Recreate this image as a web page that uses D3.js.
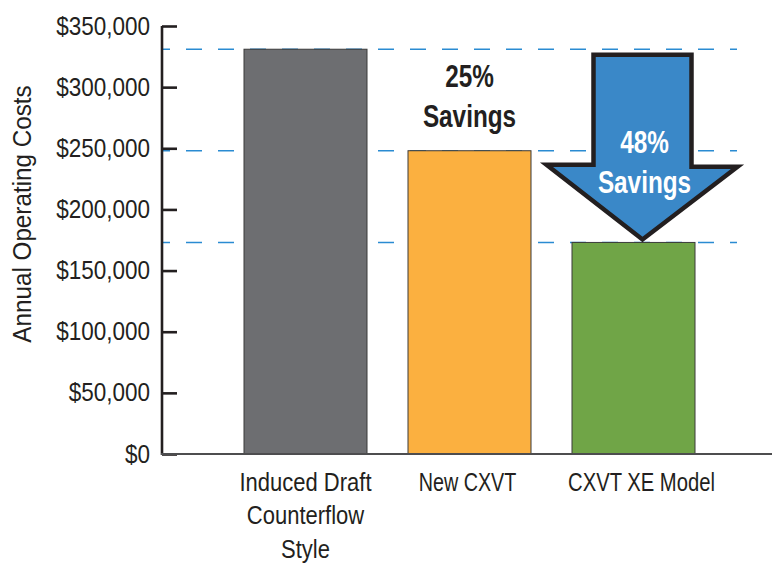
<!DOCTYPE html>
<html>
<head>
<meta charset="utf-8">
<script src="https://cdn.jsdelivr.net/npm/d3@7/dist/d3.min.js"></script>
<style>
  body { margin: 0; background: #fff; }
  text { font-family: "Liberation Sans", Arial, sans-serif; fill: #231f20; }
</style>
</head>
<body>
<div id="container"></div>
<script>
var categories = [['Induced Draft', 'Counterflow', 'Style'], ['New CXVT'], ['CXVT XE Model']]
var costs = [331000, 248000, 173000]
var colors = ['#6d6e71', '#fbb040', '#70a547']
var yTicks = [0, 50000, 100000, 150000, 200000, 250000, 300000, 350000]
var savingsLabels = [null, ['25%', 'Savings'], ['48%', 'Savings']]

var width = 772, height = 565
var svg = d3.select('#container').append('svg').attr('width', width).attr('height', height)

var x = d3.scaleBand().domain([0, 1, 2]).range([223.5, 715.5]).paddingInner(0.25).paddingOuter(0.125)
var y = d3.scaleLinear().domain([0, 350000]).range([454, 26])

// dashed reference lines at each bar height
svg.append('g').selectAll('line').data(costs).join('line')
  .attr('x1', 162).attr('x2', 737)
  .attr('y1', function (d) { return y(d) }).attr('y2', function (d) { return y(d) })
  .attr('stroke', '#2a8bd2').attr('stroke-width', 1.6)
  .attr('stroke-dasharray', '16,16').attr('stroke-dashoffset', 8)

// bars
svg.append('g').selectAll('rect').data(costs).join('rect')
  .attr('x', function (d, i) { return x(i) })
  .attr('y', function (d) { return y(d) })
  .attr('width', x.bandwidth())
  .attr('height', function (d) { return y(0) - y(d) })
  .attr('fill', function (d, i) { return colors[i] })
  .attr('stroke', '#3a3a3a').attr('stroke-width', 1)

// y axis
var yAxis = d3.axisLeft(y).tickValues(yTicks).tickSize(-15).tickPadding(12)
  .tickFormat(function (d) { return '$' + d3.format(',')(d) })
var gy = svg.append('g').attr('transform', 'translate(162,0)').call(yAxis)
gy.select('.domain').attr('stroke', '#231f20').attr('stroke-width', 2.6).attr('d', 'M0,' + y(350000) + 'V' + (y(0) + 1))
gy.selectAll('.tick line').attr('stroke', '#231f20').attr('stroke-width', 2.6)
gy.selectAll('.tick text').attr('font-size', 25).attr('fill', '#231f20')
  .style('font-family', '"Liberation Sans", Arial, sans-serif')
  .attr('x', 0).attr('transform', 'translate(-12,0) scale(0.9,1)')

// x axis baseline
svg.append('line').attr('x1', 161).attr('x2', width).attr('y1', y(0)).attr('y2', y(0))
  .attr('stroke', '#4d4d4f').attr('stroke-width', 2)

// category labels
var xl = svg.append('g').selectAll('g').data(categories).join('g')
  .attr('transform', function (d, i) {
    var nudge = i === 2 ? 8 : (i === 1 ? -2 : 0)
    return 'translate(' + (x(i) + x.bandwidth() / 2 + nudge) + ',491)'
  })
  .append('text').attr('text-anchor', 'middle').attr('font-size', 25)
  .attr('transform', function (d, i) { return 'scale(' + [0.88, 0.79, 0.81][i] + ',1)' })
xl.selectAll('tspan').data(function (d) { return d }).join('tspan')
  .attr('x', 0).attr('dy', function (d, i) { return i ? 33.5 : 0 })
  .text(function (d) { return d })

// y axis title
svg.append('text').attr('transform', 'translate(31,214) rotate(-90) scale(0.97,1)')
  .attr('text-anchor', 'middle').attr('font-size', 25).text('Annual Operating Costs')

// arrow from first bar height down to third bar
var ax = x(2) + x.bandwidth() / 2 + 9
var arrowTop = y(costs[0]) + 5.5, arrowTip = y(costs[2]) - 3, neck = y(costs[1]) + 14
var arrow = [[ax - 49, arrowTop], [ax + 49, arrowTop], [ax + 49, neck + 2], [ax + 95, neck + 2], [ax, arrowTip],
  [ax - 96, neck], [ax - 49, neck]]
svg.append('path').attr('d', d3.line()(arrow) + 'Z')
  .attr('fill', '#3a88c8').attr('stroke', '#231f20').attr('stroke-width', 4.5).attr('stroke-linejoin', 'miter')

// savings labels
savingsLabels.forEach(function (lab, i) {
  if (!lab) return
  var cx = i === 1 ? x(i) + x.bandwidth() / 2 : ax + 2
  var by = i === 1 ? 87 : 153
  var g = svg.append('g').attr('transform', 'translate(' + cx + ',0) scale(0.76,1)')
  g.append('text').attr('text-anchor', 'middle').attr('font-size', 32).attr('font-weight', 'bold')
    .style('fill', i === 2 ? '#fff' : '#231f20')
    .selectAll('tspan').data(lab).join('tspan')
    .attr('x', 0).attr('y', function (d, j) { return by + j * 40.5 })
    .text(function (d) { return d })
})
</script>
</body>
</html>
